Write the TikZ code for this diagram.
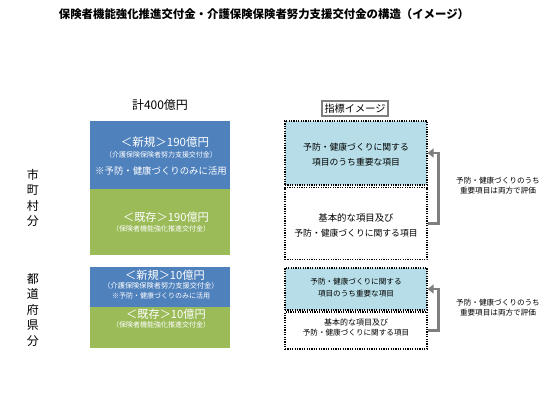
\documentclass[tikz,border=0pt]{standalone}
\usepackage{fontspec}
\setmainfont{Noto Sans CJK JP}
\usetikzlibrary{arrows.meta}
\definecolor{newblue}{HTML}{4F81BD}
\definecolor{oldgreen}{HTML}{9BBB59}
\definecolor{keyblue}{HTML}{B7DEE8}
\definecolor{arrowgray}{HTML}{7F7F7F}
\newcommand{\fs}[1]{\fontsize{#1}{#1}\selectfont}

\begin{document}
\begin{tikzpicture}[x=1pt, y=-1pt, every node/.style={inner sep=0pt},
    fundbox/.style={minimum width=140pt},
    fundtext/.style={text=white},
    dotbox/.style={draw, line width=1.2pt, dash pattern=on 1.2pt off 1.2pt, minimum width=142pt},
    backarrow/.style={draw=arrowgray, line width=2.6pt, -{Triangle[length=6pt, width=9pt]}}]
    \useasboundingbox (0,0) rectangle (560,420);

    % title
    \node[font=\fs{11.4}\bfseries] (title) at (264,14) {保険者機能強化推進交付金・介護保険保険者努力支援交付金の構造（イメージ）};

    % left: funds
    \node[font=\fs{12}] (total) at (160,105) {計400億円};
    \node[fundbox, fill=newblue, minimum height=68pt] (new1) at (160,155) {};
    \node[fundbox, fill=oldgreen, minimum height=66pt] (old1) at (160,222) {};
    \node[fundbox, fill=newblue, minimum height=40pt] (new2) at (160,287) {};
    \node[fundbox, fill=oldgreen, minimum height=41pt] (old2) at (160,327.5) {};

    \node[fundtext, font=\fs{11.5}] (new1a) at (165,142) {＜新規＞190億円};
    \node[fundtext, font=\fs{7}] (new1b) at (161,155) {（介護保険保険者努力支援交付金）};
    \node[fundtext, font=\fs{9.4}] (new1c) at (161,171) {※予防・健康づくりのみに活用};
    \node[fundtext, font=\fs{11.2}] (old1a) at (166,217) {＜既存＞190億円};
    \node[fundtext, font=\fs{7}] (old1b) at (161,229) {（保険者機能強化推進交付金）};

    \node[fundtext, font=\fs{11.2}] (new2a) at (165,275) {＜新規＞10億円};
    \node[fundtext, font=\fs{7.2}] (new2b) at (161,285.5) {（介護保険保険者努力支援交付金）};
    \node[fundtext, font=\fs{7}] (new2c) at (161,296) {※予防・健康づくりのみに活用};
    \node[fundtext, font=\fs{11.2}] (old2a) at (166,314) {＜既存＞10億円};
    \node[fundtext, font=\fs{7}] (old2b) at (161,325) {（保険者機能強化推進交付金）};

    % left: row labels
    \node[font=\fs{12}, align=center] (city) at (33,198) {市\\[3.5pt]町\\[3.5pt]村\\[3.5pt]分};
    \node[font=\fs{12}, align=center] (pref) at (33,310) {都\\[3.5pt]道\\[3.5pt]府\\[3.5pt]県\\[3.5pt]分};

    % right: indicators
    \node[draw=arrowgray, line width=2pt, fill=white, minimum width=66pt, minimum height=14pt, font=\fs{10.2}] (head) at (355,108.5) {指標イメージ};

    \node[dotbox, fill=keyblue, minimum height=64pt] (hi1) at (356,153) {};
    \node[dotbox, minimum height=72pt] (lo1) at (356,223.5) {};
    \node[dotbox, fill=keyblue, minimum height=42pt] (hi2) at (356,289) {};
    \node[dotbox, minimum height=37pt] (lo2) at (356,330.5) {};

    \node[font=\fs{8.8}] (hi1a) at (356,147) {予防・健康づくりに関する};
    \node[font=\fs{8.8}] (hi1b) at (356,162) {項目のうち重要な項目};
    \node[font=\fs{9.4}] (lo1a) at (356,218) {基本的な項目及び};
    \node[font=\fs{8.8}] (lo1b) at (356,233) {予防・健康づくりに関する項目};
    \node[font=\fs{7.6}] (hi2a) at (356,282) {予防・健康づくりに関する};
    \node[font=\fs{7.6}] (hi2b) at (356,293.5) {項目のうち重要な項目};
    \node[font=\fs{8}] (lo2a) at (356,322) {基本的な項目及び};
    \node[font=\fs{7.6}] (lo2b) at (356,333) {予防・健康づくりに関する項目};

    % arrows back to the key items
    \draw[backarrow] (lo1.east) -- ++(11,0) |- (hi1.east);
    \draw[backarrow] (lo2.east) -- ++(11,0) |- (hi2.east);

    % side notes
    \node[font=\fs{7.6}, align=center] (note1) at (498,185.5) {予防・健康づくりのうち\\[3pt]重要項目は両方で評価};
    \node[font=\fs{7.6}, align=center] (note2) at (498,307.5) {予防・健康づくりのうち\\[3pt]重要項目は両方で評価};

\end{tikzpicture}
\end{document}
